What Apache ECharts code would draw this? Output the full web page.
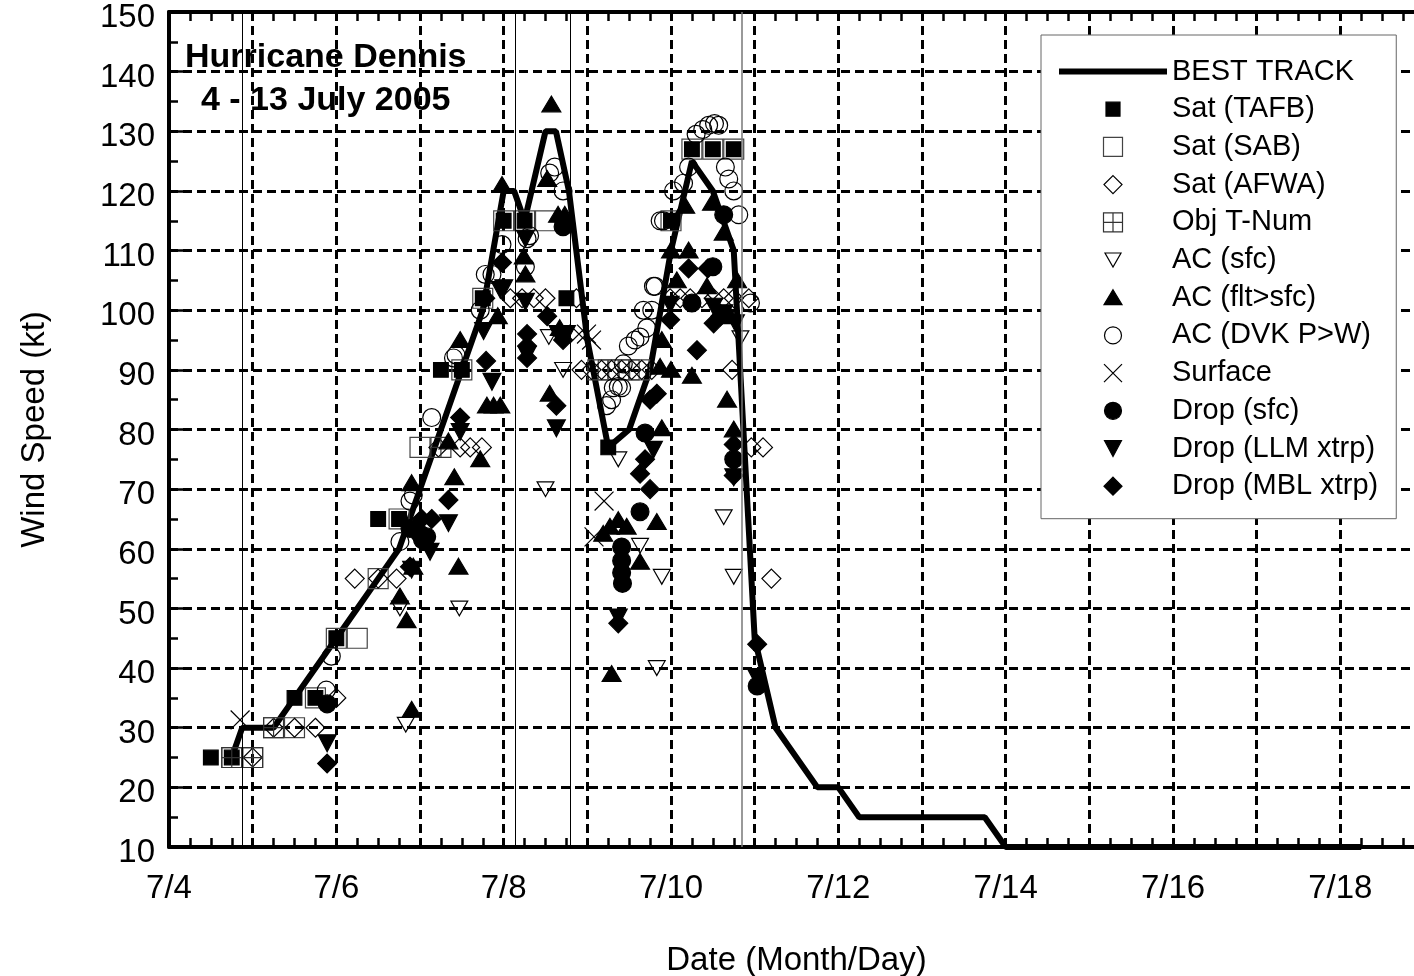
<!DOCTYPE html>
<html><head><meta charset="utf-8">
<script src="https://cdn.jsdelivr.net/npm/echarts@6.0.0/dist/echarts.min.js"></script>
<style>html,body{margin:0;padding:0;background:#fff}#c{width:1414px;height:976px}</style>
</head><body><div id="c"></div>
<script>
const FONT = 'Liberation Sans, Arial, Helvetica, sans-serif';

// x values are July days (e.g. 8.5 = 7/8 12 UTC), y values in kt
const dateTicks = [4, 6, 8, 10, 12, 14, 16, 18];
const dateLabels = ['7/4', '7/6', '7/8', '7/10', '7/12', '7/14', '7/16', '7/18'];
const landfallDays = [4.875, 8.145, 8.8, 10.85];

const bestTrack = [[4.75,25],[4.875,30],[5.25,30],[5.5,35],[6.0,45],[6.25,50],[6.5,55],[6.75,60],[7.0,70],[7.25,80],[7.5,90],[7.75,100],[8.0,120],[8.125,120],[8.25,115],[8.5,130],[8.625,130],[8.78,120],[9.0,95],[9.25,77],[9.5,80],[9.75,90],[10.0,110],[10.25,125],[10.5,120],[10.75,110],[11.0,45],[11.25,30],[11.75,20],[12.0,20],[12.25,15],[13.75,15],[14.0,10],[18.25,10]];

const satTAFB = [[4.5,25],[4.75,25],[5.5,35],[5.75,35],[6.0,45],[6.5,65],[6.75,65],[7.25,90],[7.5,90],[7.75,102],[8.0,115],[8.25,115],[8.75,102],[9.25,77],[10.0,115],[10.25,127],[10.5,127],[10.75,127]];

const satSAB = [[4.75,25],[5.0,25],[5.25,30],[5.5,30],[5.75,35],[6.0,45],[6.25,45],[6.5,55],[6.75,65],[7.0,77],[7.5,90],[7.75,102],[8.0,115],[8.25,115],[8.5,115],[9.125,90],[9.25,90],[9.375,90],[9.5,90],[9.625,90],[10.0,115],[10.25,127],[10.5,127],[10.75,127]];

const satAFWA = [[5.0,25],[5.25,30],[5.5,30],[5.75,30],[6.0,35],[6.22,55],[6.5,55],[6.72,55],[7.22,77],[7.48,77],[7.6,77],[7.74,77],[8.08,102],[8.22,102],[8.36,102],[8.5,102],[8.87,102],[8.93,90],[9.05,90],[9.17,90],[9.29,90],[9.41,90],[9.53,90],[9.65,90],[9.77,90],[9.99,102],[10.11,102],[10.23,102],[10.37,102],[10.51,102],[10.63,102],[10.73,90],[10.75,102],[10.93,102],[10.96,77],[11.1,77],[11.2,55]];

const objTNum = [[4.75,25],[5.0,25],[5.25,30],[7.25,77]];

const acSfc = [[6.83,30.5],[6.76,50],[7.47,50],[8.5,70],[8.54,95.5],[8.71,90],[9.37,75],[9.63,60.5],[9.83,40],[9.89,55.3],[10.63,65.3],[10.75,55.3],[10.83,95.3]];

const acFlt = [[6.9,33],[6.76,52],[6.84,48],[6.92,57],[6.9,71],[7.34,78],[7.41,72],[7.46,57],[7.48,95],[7.72,75],[7.8,84],[7.88,84],[7.96,84],[7.93,99],[7.98,121],[8.24,109],[8.26,106],[8.52,122],[8.57,134.5],[8.65,116],[8.73,116],[8.55,86],[8.67,97],[9.19,62.5],[9.27,63.7],[9.37,64.8],[9.47,63.7],[9.29,39],[9.63,57.8],[9.83,64.5],[9.89,80.2],[9.87,90.5],[9.89,95],[10.0,90],[10.25,89],[10.07,105],[10.0,110],[10.21,110],[10.17,117.5],[10.49,118],[10.63,113],[10.43,104],[10.79,105],[10.71,99],[10.67,85],[10.75,80]];

const acDVK = [[5.88,36.3],[5.94,42],[6.76,61.2],[6.88,68],[6.92,69],[7.14,82],[7.4,92],[7.43,92.5],[7.72,100],[7.78,106],[7.86,106],[7.98,111],[8.28,112],[8.31,112.5],[8.26,107.3],[8.55,123],[8.61,124],[8.71,120],[9.23,84],[9.29,85],[9.31,87],[9.37,87.2],[9.41,87],[9.43,91],[9.49,94],[9.57,95],[9.63,95.5],[9.67,100],[9.71,97],[9.77,100],[9.79,104],[9.81,104],[9.87,115],[9.91,115],[10.03,120],[10.15,121.3],[10.21,124],[10.3,129.5],[10.38,130.3],[10.45,131],[10.52,131.3],[10.57,131],[10.65,124],[10.69,122],[10.75,120],[10.81,116],[10.95,101.2]];

const surface = [[4.85,31.3],[8.9,96],[8.99,96],[9.05,95],[9.08,62],[9.2,68]];

const dropSfc = [[5.89,34],[6.88,63.4],[7.0,62.5],[7.03,61.5],[7.08,62],[8.71,114],[9.41,60.3],[9.41,58],[9.41,56],[9.42,54.2],[9.63,66.2],[9.69,79.4],[10.25,101.2],[10.5,107.3],[10.63,116],[10.75,75],[11.03,37]];

const dropLLM = [[5.89,27.4],[6.9,56.5],[7.12,59.5],[7.34,64.3],[7.48,79.6],[7.76,96.5],[7.86,88],[7.96,103.4],[8.0,103.7],[8.26,101.4],[8.26,112],[8.28,92.5],[8.63,80.2],[8.65,96],[8.75,96],[9.37,48.5],[9.79,76.6],[9.99,100.9],[10.51,100.6],[10.63,99.5],[10.77,97.8],[10.75,72],[11.02,38.5]];

const dropMBL = [[5.89,24],[6.88,57],[7.02,65],[7.14,65],[7.34,68.2],[7.48,82],[7.79,91.5],[7.78,102],[7.98,108],[8.28,96],[8.28,94],[8.28,92],[8.52,99],[8.63,84],[8.71,95],[9.37,47.5],[9.63,72.6],[9.69,75],[9.75,70],[9.75,85],[9.83,86],[9.99,98.4],[10.21,107],[10.31,93.3],[10.44,107],[10.51,97.8],[10.59,99],[10.75,77.5],[10.75,72.3],[11.03,44]];

// symbol shapes drawn in a 20x20 box (the two leading moves fix the box)
const BOX = 'path://M0,0M20,20';
const SYM = {
  fsq: BOX + 'M3,3H17V17H3Z',
  osq: BOX + 'M0.5,0.5H19.5V19.5H0.5Z',
  dia: BOX + 'M10,1L19,10L10,19L1,10Z',
  tnum: BOX + 'M0.5,0.5H19.5V19.5H0.5ZM10,0.5V19.5M0.5,10H19.5',
  tdown: BOX + 'M2,3H18L10,17Z',
  tup: BOX + 'M10,2L19,17H1Z',
  circ: BOX + 'M18.5,10A8.5,8.5,0,1,1,1.5,10A8.5,8.5,0,1,1,18.5,10Z',
  cross: BOX + 'M1,1L19,19M19,1L1,19',
  tdownB: BOX + 'M1.5,2H18.5L10,18Z'
};

function sc(name, data, sym, fill, stroke) {
  return {
    type: 'scatter', name: name, data: data, symbol: sym, symbolSize: 21,
    itemStyle: { color: fill, borderColor: stroke, borderWidth: 1.2, opacity: 1 },
    emphasis: { disabled: true }, silent: true, z: 3
  };
}

const tickStyle = { color: '#000', width: 2.5 };
const dashStyle = { color: '#000', width: 3, type: [9, 5] };

function xAx(pos, withLabels) {
  return {
    type: 'value', position: pos, min: 4, max: 19, interval: 1,
    axisLine: { show: true, onZero: false, lineStyle: { color: '#000', width: 4 } },
    axisTick: { show: true, inside: true, length: 9, lineStyle: tickStyle },
    minorTick: { show: true, splitNumber: 4, length: 9, lineStyle: tickStyle },
    splitLine: { show: withLabels, lineStyle: dashStyle },
    axisLabel: {
      show: withLabels, margin: 25, color: '#000', fontSize: 33, fontFamily: FONT,
      hideOverlap: false, showMinLabel: true, showMaxLabel: true,
      formatter: function (v) { const i = dateTicks.indexOf(v); return i >= 0 ? dateLabels[i] : ''; }
    },
    name: withLabels ? 'Date (Month/Day)' : '', nameLocation: 'middle', nameGap: 97,
    nameTextStyle: { color: '#000', fontSize: 33, fontFamily: FONT }
  };
}

const chart = echarts.init(document.getElementById('c'), null, { renderer: 'canvas' });
chart.setOption({
  animation: false,
  backgroundColor: '#fff',
  title: [
    { text: 'Hurricane Dennis', left: 185, top: 41, padding: 0,
      textStyle: { fontSize: 34, fontWeight: 'bold', color: '#000', fontFamily: FONT } },
    { text: '4 - 13 July 2005', left: 201, top: 84, padding: 0,
      textStyle: { fontSize: 34, fontWeight: 'bold', color: '#000', fontFamily: FONT } }
  ],
  grid: { left: 169, right: -10, top: 12, bottom: 129, containLabel: false, outerBoundsMode: 'none' },
  xAxis: [xAx('bottom', true), xAx('top', false)],
  yAxis: [{
    type: 'value', min: 10, max: 150, interval: 10, position: 'left',
    axisLine: { show: true, onZero: false, lineStyle: { color: '#000', width: 4 } },
    axisTick: { show: true, inside: true, length: 14, lineStyle: tickStyle },
    minorTick: { show: true, splitNumber: 2, length: 9, lineStyle: tickStyle },
    splitLine: { show: true, lineStyle: dashStyle },
    axisLabel: { margin: 14, color: '#000', fontSize: 33, fontFamily: FONT,
      verticalAlign: 'top', lineHeight: 12 },
    name: 'Wind Speed (kt)', nameLocation: 'middle', nameGap: 118,
    nameTextStyle: { color: '#000', fontSize: 33, fontFamily: FONT }
  }],
  legend: {
    orient: 'vertical', left: 1041, top: 35, padding: [22, 18, 18, 18],
    itemWidth: 108, itemHeight: 20, itemGap: 8.7,
    backgroundColor: '#fff', borderColor: '#666', borderWidth: 1, borderRadius: 0,
    selectedMode: false,
    textStyle: { fontSize: 29, color: '#000', fontFamily: FONT, lineHeight: 26 },
    itemStyle: { borderWidth: 1.2 },
    data: [
      { name: 'BEST TRACK', icon: 'path://M0,0M0,7H108V13H0ZM108,20' },
      'Sat (TAFB)', 'Sat (SAB)', 'Sat (AFWA)', 'Obj T-Num', 'AC (sfc)', 'AC (flt>sfc)',
      'AC (DVK P>W)', 'Surface', 'Drop (sfc)', 'Drop (LLM xtrp)', 'Drop (MBL xtrp)'
    ]
  },
  series: [
    {
      type: 'line', name: 'BEST TRACK', data: bestTrack, symbol: 'none', z: 2,
      lineStyle: { color: '#000', width: 6 }, itemStyle: { color: '#000' },
      emphasis: { disabled: true }, silent: true,
      markLine: {
        silent: true, symbol: ['none', 'none'], label: { show: false },
        lineStyle: { color: '#000', width: 1, type: 'solid' },
        data: landfallDays.map(function (d, i) {
          return { xAxis: d, lineStyle: { color: i === 3 ? '#777' : '#000', width: i === 3 ? 1.5 : 1, type: 'solid' } };
        })
      }
    },
    sc('Sat (TAFB)', satTAFB, SYM.fsq, '#000', '#000'),
    sc('Sat (SAB)', satSAB, SYM.osq, 'transparent', '#444'),
    sc('Sat (AFWA)', satAFWA, SYM.dia, 'transparent', '#000'),
    sc('Obj T-Num', objTNum, SYM.tnum, 'transparent', '#333'),
    sc('AC (sfc)', acSfc, SYM.tdown, 'transparent', '#000'),
    sc('AC (flt>sfc)', acFlt, SYM.tup, '#000', '#000'),
    sc('AC (DVK P>W)', acDVK, SYM.circ, 'transparent', '#000'),
    sc('Surface', surface, SYM.cross, 'transparent', '#000'),
    sc('Drop (sfc)', dropSfc, SYM.circ, '#000', '#000'),
    sc('Drop (LLM xtrp)', dropLLM, SYM.tdownB, '#000', '#000'),
    sc('Drop (MBL xtrp)', dropMBL, SYM.dia, '#000', '#000')
  ]
});
</script></body></html>
